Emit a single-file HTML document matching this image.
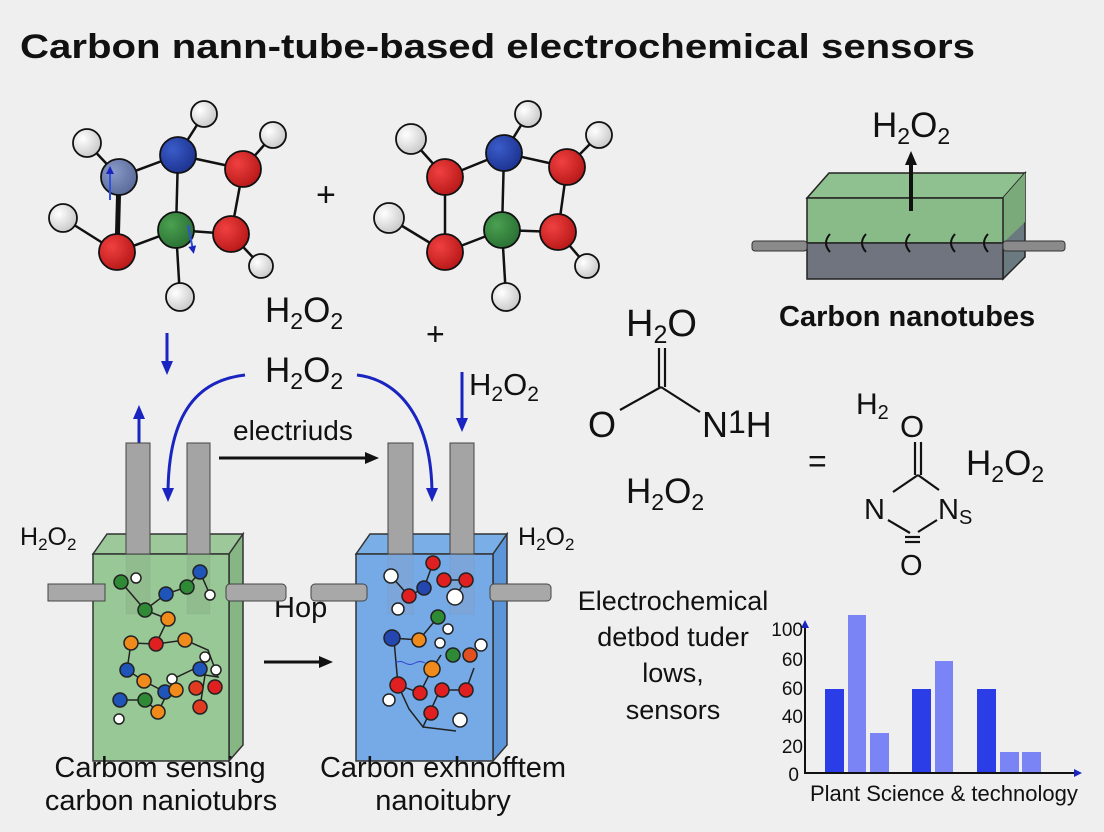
<!DOCTYPE html>
<html><head><meta charset="utf-8"><style>
html,body{margin:0;padding:0;background:#efefef;}
svg{display:block}
text{font-family:"Liberation Sans",sans-serif;fill:#111}
</style></head><body>
<svg width="1104" height="832" viewBox="0 0 1104 832" xmlns="http://www.w3.org/2000/svg">
<defs>
<radialGradient id="gW" cx="35%" cy="35%" r="70%"><stop offset="0" stop-color="#fff"/><stop offset="1" stop-color="#c8c8c8"/></radialGradient>
<radialGradient id="gR" cx="35%" cy="35%" r="70%"><stop offset="0" stop-color="#f04040"/><stop offset="1" stop-color="#b81818"/></radialGradient>
<radialGradient id="gB" cx="35%" cy="35%" r="70%"><stop offset="0" stop-color="#3a5cc8"/><stop offset="1" stop-color="#1c3290"/></radialGradient>
<radialGradient id="gG" cx="35%" cy="35%" r="70%"><stop offset="0" stop-color="#4aa050"/><stop offset="1" stop-color="#2a7034"/></radialGradient>
<radialGradient id="gS" cx="35%" cy="35%" r="70%"><stop offset="0" stop-color="#8a9ac8"/><stop offset="1" stop-color="#5a6a98"/></radialGradient>
<marker id="ab" markerWidth="8" markerHeight="8" refX="4" refY="4" orient="auto" markerUnits="userSpaceOnUse" viewBox="0 0 8 8"><path d="M0,0 L8,4 L0,8z" fill="#1a24c0"/></marker>
<marker id="ak" markerWidth="14" markerHeight="14" refX="7" refY="7" orient="auto" markerUnits="userSpaceOnUse" viewBox="0 0 14 14"><path d="M0,1 L14,7 L0,13z" fill="#111"/></marker>
<marker id="abl" markerWidth="14" markerHeight="14" refX="7" refY="7" orient="auto" markerUnits="userSpaceOnUse" viewBox="0 0 14 14"><path d="M0,1 L14,7 L0,13z" fill="#1a24c0"/></marker>
</defs>

<text x="20" y="58" font-size="34" font-weight="bold" textLength="955" lengthAdjust="spacingAndGlyphs">Carbon nann-tube-based electrochemical sensors</text>

<!-- molecule 1 -->
<g stroke="#111" stroke-width="2.5">
<line x1="87" y1="143" x2="119" y2="177"/><line x1="119" y1="177" x2="178" y2="155"/><line x1="178" y1="155" x2="204" y2="114"/>
<line x1="178" y1="155" x2="243" y2="169"/><line x1="243" y1="169" x2="273" y2="135"/><line x1="243" y1="169" x2="231" y2="234"/>
<line x1="178" y1="155" x2="176" y2="230"/><line x1="119" y1="177" x2="117" y2="252" stroke-width="5"/>
<line x1="63" y1="218" x2="117" y2="252"/><line x1="117" y1="252" x2="176" y2="230"/><line x1="176" y1="230" x2="231" y2="234"/>
<line x1="231" y1="234" x2="261" y2="266"/><line x1="176" y1="230" x2="180" y2="297"/>
</g>
<g stroke="#111" stroke-width="1.8">
<circle cx="87" cy="143" r="14" fill="url(#gW)"/><circle cx="204" cy="114" r="13" fill="url(#gW)"/><circle cx="273" cy="135" r="13" fill="url(#gW)"/>
<circle cx="63" cy="218" r="14" fill="url(#gW)"/><circle cx="261" cy="266" r="12" fill="url(#gW)"/><circle cx="180" cy="297" r="14" fill="url(#gW)"/>
<circle cx="119" cy="177" r="18" fill="url(#gS)"/><circle cx="178" cy="155" r="18" fill="url(#gB)"/><circle cx="243" cy="169" r="18" fill="url(#gR)"/>
<circle cx="117" cy="252" r="18" fill="url(#gR)"/><circle cx="176" cy="230" r="18" fill="url(#gG)"/><circle cx="231" cy="234" r="18" fill="url(#gR)"/>
</g>
<line x1="110" y1="200" x2="110" y2="170" stroke="#3050e0" stroke-width="2" marker-end="url(#ab)"/>
<line x1="188" y1="225" x2="193" y2="250" stroke="#3050e0" stroke-width="2" marker-end="url(#ab)"/>
<text x="316" y="206" font-size="34">+</text>

<!-- molecule 2 -->
<g stroke="#111" stroke-width="2.5">
<line x1="411" y1="139" x2="445" y2="177"/><line x1="445" y1="177" x2="504" y2="153"/><line x1="504" y1="153" x2="528" y2="114"/>
<line x1="504" y1="153" x2="567" y2="167"/><line x1="567" y1="167" x2="599" y2="135"/><line x1="567" y1="167" x2="558" y2="232"/>
<line x1="504" y1="153" x2="502" y2="230"/><line x1="445" y1="177" x2="445" y2="252"/>
<line x1="389" y1="218" x2="445" y2="252"/><line x1="445" y1="252" x2="502" y2="230"/><line x1="502" y1="230" x2="558" y2="232"/>
<line x1="558" y1="232" x2="587" y2="266"/><line x1="502" y1="230" x2="506" y2="297"/>
</g>
<g stroke="#111" stroke-width="1.8">
<circle cx="411" cy="139" r="15" fill="url(#gW)"/><circle cx="528" cy="114" r="13" fill="url(#gW)"/><circle cx="599" cy="135" r="13" fill="url(#gW)"/>
<circle cx="389" cy="218" r="15" fill="url(#gW)"/><circle cx="587" cy="266" r="12" fill="url(#gW)"/><circle cx="506" cy="297" r="14" fill="url(#gW)"/>
<circle cx="445" cy="177" r="18" fill="url(#gR)"/><circle cx="504" cy="153" r="18" fill="url(#gB)"/><circle cx="567" cy="167" r="18" fill="url(#gR)"/>
<circle cx="445" cy="252" r="18" fill="url(#gR)"/><circle cx="502" cy="230" r="18" fill="url(#gG)"/><circle cx="558" cy="232" r="18" fill="url(#gR)"/>
</g>

<!-- top right box -->
<polygon points="807,198 829,173 1025,173 1003,198" fill="#8fc08f" stroke="#222" stroke-width="1.5"/>
<polygon points="1003,198 1025,173 1025,257 1003,279" fill="#6a7a80" stroke="#222" stroke-width="1.5"/>
<polygon points="1003,198 1025,173 1025,222 1003,243" fill="#7aaa7a"/>
<rect x="807" y="198" width="196" height="45" fill="#88bb88" stroke="#222" stroke-width="1.5"/>
<rect x="807" y="243" width="196" height="36" fill="#70747f" stroke="#222" stroke-width="1.5"/>
<rect x="752" y="241" width="55" height="10" rx="3" fill="#8a8a8a" stroke="#333"/>
<rect x="1003" y="241" width="62" height="10" rx="3" fill="#8a8a8a" stroke="#333"/>
<g fill="none" stroke="#111" stroke-width="2">
<path d="M830,234 q-8,9 0,18"/><path d="M866,234 q-8,9 0,18"/><path d="M910,234 q-8,9 0,18"/><path d="M955,234 q-8,9 0,18"/><path d="M988,234 q-8,9 0,18"/>
</g>
<line x1="911" y1="211" x2="911" y2="158" stroke="#111" stroke-width="4" marker-end="url(#ak)"/>
<text x="872" y="137" font-size="35">H<tspan font-size="23" dy="7">2</tspan><tspan dy="-7">O</tspan><tspan font-size="23" dy="7">2</tspan></text>
<text x="779" y="326" font-size="29" font-weight="bold">Carbon nanotubes</text>

<!-- middle labels -->
<text x="265" y="322" font-size="35">H<tspan font-size="23" dy="7">2</tspan><tspan dy="-7">O</tspan><tspan font-size="23" dy="7">2</tspan></text>
<text x="426" y="345" font-size="32">+</text>
<text x="265" y="382" font-size="35">H<tspan font-size="23" dy="7">2</tspan><tspan dy="-7">O</tspan><tspan font-size="23" dy="7">2</tspan></text>
<text x="469" y="395" font-size="31">H<tspan font-size="21" dy="6">2</tspan><tspan dy="-6">O</tspan><tspan font-size="21" dy="6">2</tspan></text>
<text x="20" y="545" font-size="25">H<tspan font-size="17" dy="5">2</tspan><tspan dy="-5">O</tspan><tspan font-size="17" dy="5">2</tspan></text>
<text x="518" y="545" font-size="25">H<tspan font-size="17" dy="5">2</tspan><tspan dy="-5">O</tspan><tspan font-size="17" dy="5">2</tspan></text>

<!-- blue arrows -->
<g fill="none" stroke="#1a24c0" stroke-width="3">
<line x1="167" y1="333" x2="167" y2="368" marker-end="url(#abl)"/>
<path d="M245,375 C200,380 168,410 168,495" marker-end="url(#abl)"/>
<path d="M357,375 C400,380 432,420 432,495" marker-end="url(#abl)"/>
<line x1="462" y1="372" x2="462" y2="425" marker-end="url(#abl)"/>
<line x1="139" y1="445" x2="139" y2="412" marker-end="url(#abl)"/>
<line x1="185" y1="545" x2="185" y2="565" stroke-width="2" marker-end="url(#ab)"/>
</g>

<!-- black arrows -->
<line x1="219" y1="458" x2="372" y2="458" stroke="#111" stroke-width="3" marker-end="url(#ak)"/>
<text x="233" y="440" font-size="28">electriuds</text>
<line x1="264" y1="662" x2="326" y2="662" stroke="#111" stroke-width="3" marker-end="url(#ak)"/>
<text x="274" y="617" font-size="29">Hop</text>

<!-- green beaker -->
<polygon points="93,554 107,534 243,534 229,554" fill="#9cc89a" stroke="#333" stroke-width="1.5"/>
<polygon points="229,554 243,534 243,745 229,761" fill="#86b684" stroke="#333" stroke-width="1.5"/>
<rect x="93" y="554" width="136" height="207" fill="#98c896" stroke="#333" stroke-width="1.5"/>
<rect x="48" y="584" width="57" height="17" fill="#a8a8a8" stroke="#444"/>
<rect x="226" y="584" width="60" height="17" rx="4" fill="#a8a8a8" stroke="#444"/>
<rect x="126" y="443" width="24" height="111" fill="#a4a4a4" stroke="#444"/>
<rect x="187" y="443" width="23" height="111" fill="#a4a4a4" stroke="#444"/>
<rect x="126" y="554" width="24" height="60" fill="#7a9a7a" opacity="0.25" stroke="#555" stroke-opacity="0.3"/>
<rect x="187" y="554" width="23" height="60" fill="#7a9a7a" opacity="0.25" stroke="#555" stroke-opacity="0.3"/>
<g stroke="#222" stroke-width="1.5">
<polyline fill="none" points="121,582 145,610 166,594 187,587 200,572 210,595"/>
<polyline fill="none" points="145,610 168,619 156,644 131,643 127,670 144,681 165,692"/>
<polyline fill="none" points="156,644 185,640 208,650 218,677 199,674"/>
<polyline fill="none" points="120,700 145,700 158,712 175,678 196,668 205,675 200,707"/>
<circle cx="121" cy="582" r="7" fill="#2e8a34"/><circle cx="136" cy="578" r="5" fill="#fff"/><circle cx="145" cy="610" r="7" fill="#2e8a34"/><circle cx="166" cy="594" r="7" fill="#1f55b8"/>
<circle cx="187" cy="587" r="7" fill="#2e8a34"/><circle cx="200" cy="572" r="7" fill="#1f55b8"/><circle cx="210" cy="595" r="5" fill="#fff"/>
<circle cx="168" cy="619" r="7" fill="#f08a1a"/><circle cx="156" cy="644" r="7" fill="#e02020"/><circle cx="131" cy="643" r="7" fill="#f08a1a"/><circle cx="185" cy="640" r="7" fill="#f08a1a"/>
<circle cx="127" cy="670" r="7" fill="#1f55b8"/><circle cx="144" cy="681" r="7" fill="#f08a1a"/><circle cx="165" cy="692" r="7" fill="#1f55b8"/><circle cx="205" cy="657" r="5" fill="#fff"/>
<circle cx="200" cy="669" r="7" fill="#1f55b8"/><circle cx="216" cy="670" r="5" fill="#fff"/><circle cx="172" cy="679" r="5" fill="#fff"/>
<circle cx="120" cy="700" r="7" fill="#1f55b8"/><circle cx="145" cy="700" r="7" fill="#2e8a34"/><circle cx="158" cy="712" r="7" fill="#f08a1a"/><circle cx="176" cy="690" r="7" fill="#f08a1a"/>
<circle cx="196" cy="688" r="7" fill="#e03a20"/><circle cx="215" cy="687" r="7" fill="#e02020"/><circle cx="200" cy="707" r="7" fill="#e03a20"/><circle cx="119" cy="719" r="5" fill="#fff"/>
</g>

<!-- blue beaker -->
<polygon points="356,554 370,534 507,534 493,554" fill="#7aaee6" stroke="#333" stroke-width="1.5"/>
<polygon points="493,554 507,534 507,745 493,761" fill="#5d96d8" stroke="#333" stroke-width="1.5"/>
<rect x="356" y="554" width="137" height="207" fill="#76aae6" stroke="#333" stroke-width="1.5"/>
<rect x="311" y="584" width="56" height="17" rx="4" fill="#a8a8a8" stroke="#444"/>
<rect x="490" y="584" width="61" height="17" rx="4" fill="#a8a8a8" stroke="#444"/>
<rect x="388" y="443" width="25" height="111" fill="#a4a4a4" stroke="#444"/>
<rect x="450" y="443" width="24" height="111" fill="#a4a4a4" stroke="#444"/>
<rect x="388" y="554" width="25" height="60" fill="#8aa0c0" opacity="0.3" stroke="#555" stroke-opacity="0.3"/>
<rect x="450" y="554" width="24" height="60" fill="#8aa0c0" opacity="0.3" stroke="#555" stroke-opacity="0.3"/>
<g stroke="#222" stroke-width="1.5">
<polyline fill="none" points="391,576 409,596 424,588 433,563"/>
<polyline fill="none" points="444,580 466,580 455,597"/>
<polyline fill="none" points="392,638 419,640 438,617"/>
<polyline fill="none" points="394,640 398,685 420,693 432,669 441,655"/>
<polyline fill="none" points="398,685 409,709 423,727 440,690 466,690 474,668"/>
<polyline fill="none" points="423,727 456,731"/>
<circle cx="391" cy="576" r="7" fill="#fff"/><circle cx="409" cy="596" r="7" fill="#e02020"/><circle cx="424" cy="588" r="7" fill="#2446b0"/><circle cx="433" cy="563" r="7" fill="#e02020"/>
<circle cx="444" cy="580" r="7" fill="#e02020"/><circle cx="466" cy="580" r="7" fill="#e02020"/><circle cx="455" cy="597" r="8" fill="#fff"/><circle cx="398" cy="609" r="6" fill="#fff"/>
<circle cx="438" cy="617" r="7" fill="#2e8a34"/><circle cx="448" cy="629" r="5" fill="#fff"/><circle cx="392" cy="638" r="8" fill="#2446b0"/><circle cx="419" cy="640" r="7" fill="#f08a1a"/>
<circle cx="440" cy="643" r="5" fill="#fff"/><circle cx="453" cy="655" r="7" fill="#2e8a34"/><circle cx="470" cy="655" r="7" fill="#e05020"/><circle cx="481" cy="645" r="6" fill="#fff"/>
<circle cx="432" cy="669" r="8" fill="#f08a1a"/><circle cx="398" cy="685" r="8" fill="#e02020"/><circle cx="420" cy="693" r="7" fill="#e02020"/><circle cx="442" cy="690" r="7" fill="#e02020"/>
<circle cx="466" cy="690" r="7" fill="#e02020"/><circle cx="389" cy="700" r="6" fill="#fff"/><circle cx="431" cy="713" r="7" fill="#e02020"/><circle cx="460" cy="720" r="7" fill="#fff"/>
</g>
<path d="M395,663 q5,-3 10,0 t10,0 t10,0" stroke="#3040d0" fill="none" stroke-width="1"/>

<!-- right chemistry -->
<text x="626" y="336" font-size="38">H<tspan font-size="25" dy="7">2</tspan><tspan dy="-7">O</tspan></text>
<g stroke="#111" stroke-width="2.2">
<line x1="659" y1="348" x2="659" y2="387"/><line x1="665" y1="348" x2="665" y2="387"/>
<line x1="661" y1="387" x2="620" y2="410"/><line x1="661" y1="387" x2="700" y2="412"/>
<line x1="915" y1="442" x2="915" y2="475"/><line x1="921" y1="442" x2="921" y2="475"/>
<line x1="918" y1="475" x2="939" y2="490"/><line x1="918" y1="475" x2="893" y2="492"/>
<line x1="888" y1="520" x2="910" y2="533"/><line x1="937" y1="520" x2="918" y2="532"/>
<line x1="905" y1="537" x2="920" y2="537"/><line x1="905" y1="542" x2="920" y2="542"/>
</g>
<text x="588" y="437" font-size="36">O</text>
<text x="702" y="437" font-size="36">N<tspan font-size="32" dy="-4">1</tspan><tspan dy="4">H</tspan></text>
<text x="626" y="503" font-size="35">H<tspan font-size="23" dy="7">2</tspan><tspan dy="-7">O</tspan><tspan font-size="23" dy="7">2</tspan></text>
<text x="808" y="472" font-size="32">=</text>
<text x="856" y="414" font-size="30">H<tspan font-size="20" dy="5">2</tspan></text>
<text x="900" y="437" font-size="31">O</text>
<text x="966" y="475" font-size="35">H<tspan font-size="23" dy="7">2</tspan><tspan dy="-7">O</tspan><tspan font-size="23" dy="7">2</tspan></text>
<text x="864" y="519" font-size="29">N</text>
<text x="938" y="519" font-size="29">N<tspan font-size="20" dy="5">S</tspan></text>
<text x="900" y="575" font-size="29">O</text>

<text font-size="27" text-anchor="middle"><tspan x="673" y="610">Electrochemical</tspan><tspan x="673" y="646">detbod tuder</tspan><tspan x="673" y="682">lows,</tspan><tspan x="673" y="719">sensors</tspan></text>

<!-- chart -->
<g fill="#2a3de6"><rect x="825" y="689" width="19" height="84"/><rect x="912" y="689" width="19" height="84"/><rect x="977" y="689" width="19" height="84"/></g>
<g fill="#7b84f5"><rect x="848" y="615" width="18" height="158"/><rect x="870" y="733" width="19" height="40"/><rect x="935" y="661" width="18" height="112"/><rect x="1000" y="752" width="19" height="21"/><rect x="1022" y="752" width="19" height="21"/></g>
<line x1="805" y1="774" x2="805" y2="624" stroke="#111" stroke-width="2" marker-end="url(#ab)"/>
<line x1="805" y1="773" x2="1078" y2="773" stroke="#111" stroke-width="2" marker-end="url(#ab)"/>
<g font-size="19" text-anchor="end"><text x="803" y="636">100</text><text x="803" y="666">60</text><text x="803" y="695">60</text><text x="803" y="723">40</text><text x="803" y="753">20</text><text x="799" y="781">0</text></g>
<text x="810" y="801" font-size="22">Plant Science &amp; technology</text>

<!-- bottom labels -->
<text font-size="29" text-anchor="middle"><tspan x="160" y="777">Carbom sensing</tspan><tspan x="161" y="810">carbon naniotubrs</tspan></text>
<text font-size="29" text-anchor="middle"><tspan x="443" y="777">Carbon exhnofftem</tspan><tspan x="443" y="810">nanoitubry</tspan></text>
</svg>
</body></html>
